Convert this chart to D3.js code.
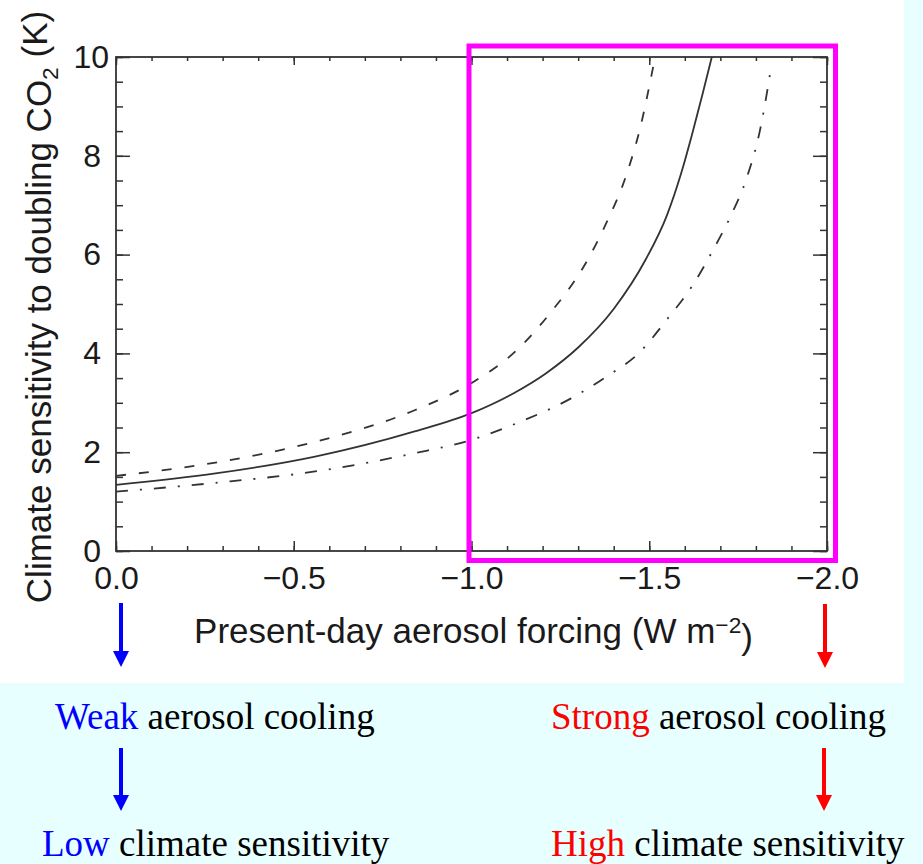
<!DOCTYPE html>
<html>
<head>
<meta charset="utf-8">
<script src="https://cdn.jsdelivr.net/npm/d3@7"></script>
<style>
  html, body { margin: 0; padding: 0; background: #e8ffff; }
  svg { display: block; }
</style>
</head>
<body>
<div id="chart"></div>
<script>
// values
const forcingTicks = [0, -0.5, -1.0, -1.5, -2.0]
const sensitivityTicks = [0, 2, 4, 6, 8, 10]

const solidForcing = [0, -0.28, -0.56, -0.84, -1.0, -1.12, -1.21, -1.30, -1.40, -1.49, -1.55, -1.59, -1.62, -1.65, -1.676]
const solidSens = [1.34, 1.57, 1.91, 2.42, 2.79, 3.2, 3.6, 4.12, 4.9, 5.9, 6.8, 7.65, 8.42, 9.25, 10.0]

const dashedForcing = [0, -0.28, -0.56, -0.84, -1.0, -1.125, -1.225, -1.315, -1.38, -1.436, -1.474, -1.511]
const dashedSens = [1.52, 1.79, 2.21, 2.85, 3.4, 4.05, 4.85, 5.75, 6.65, 7.62, 8.55, 9.8]

const dashDotForcing = [0, -0.28, -0.56, -0.84, -1.0, -1.125, -1.28, -1.38, -1.474, -1.549, -1.624, -1.68, -1.727, -1.774, -1.811, -1.842]
const dashDotSens = [1.20, 1.38, 1.61, 1.98, 2.25, 2.58, 3.09, 3.53, 4.03, 4.68, 5.4, 6.1, 6.75, 7.55, 8.5, 9.75]

const width = 923
const height = 864
const margin = {top: 57, right: 96, bottom: 313, left: 116}
const ink = '#333'
const sans = '"Liberation Sans", Arial, Helvetica, sans-serif'
const serif = '"Liberation Serif", "Times New Roman", serif'

const x = d3.scaleLinear().domain([0, -2]).range([margin.left, width - margin.right])
const y = d3.scaleLinear().domain([0, 10]).range([height - margin.bottom, margin.top])

const svg = d3.select('#chart').append('svg')
    .attr('width', width)
    .attr('height', height)

// page backgrounds
svg.append('rect').attr('width', width).attr('height', height).attr('fill', '#e8ffff')
svg.append('rect').attr('width', 904).attr('height', 683).attr('fill', '#fff')

// frame
svg.append('rect')
    .attr('x', x(0)).attr('y', y(10))
    .attr('width', x(-2) - x(0)).attr('height', y(0) - y(10))
    .attr('fill', 'none').attr('stroke', ink).attr('stroke-width', 1.8)

const xMinor = d3.range(0, 21).map(i => -i / 10)
const yMinor = d3.range(0, 21).map(i => i / 2)
const fmt = d3.format('.1f')

function tidy (g) {
  g.select('.domain').remove()
  g.selectAll('.tick line').attr('stroke', ink).attr('stroke-width', 1.5)
  g.selectAll('.tick text')
      .attr('fill', '#1a1a1a')
      .style('font-family', sans)
      .style('font-size', '32px')
}

// bottom axis
svg.append('g')
    .attr('transform', 'translate(0,' + y(0) + ')')
    .call(d3.axisBottom(x).tickValues(xMinor).tickSize(-5).tickFormat(''))
    .call(tidy)
svg.append('g')
    .attr('transform', 'translate(0,' + y(0) + ')')
    .call(d3.axisBottom(x).tickValues(forcingTicks).tickSize(-10).tickPadding(15).tickFormat(fmt))
    .call(tidy)

// top axis
svg.append('g')
    .attr('transform', 'translate(0,' + y(10) + ')')
    .call(d3.axisTop(x).tickValues(xMinor).tickSize(-4).tickFormat(''))
    .call(tidy)
svg.append('g')
    .attr('transform', 'translate(0,' + y(10) + ')')
    .call(d3.axisTop(x).tickValues(forcingTicks).tickSize(-8).tickFormat(''))
    .call(tidy)

// left axis
svg.append('g')
    .attr('transform', 'translate(' + x(0) + ',0)')
    .call(d3.axisLeft(y).tickValues(yMinor).tickSize(-7).tickFormat(''))
    .call(tidy)
svg.append('g')
    .attr('transform', 'translate(' + x(0) + ',0)')
    .call(d3.axisLeft(y).tickValues(sensitivityTicks).tickSize(-14).tickPadding(15))
    .call(tidy)
    .call(g => g.selectAll('.tick text').filter(d => d === 10).attr('dx', 8))

// right axis
svg.append('g')
    .attr('transform', 'translate(' + x(-2) + ',0)')
    .call(d3.axisRight(y).tickValues(yMinor).tickSize(-7).tickFormat(''))
    .call(tidy)
svg.append('g')
    .attr('transform', 'translate(' + x(-2) + ',0)')
    .call(d3.axisRight(y).tickValues(sensitivityTicks).tickSize(-14).tickFormat(''))
    .call(tidy)

// curves
const line = d3.line()
    .x(d => x(d[0]))
    .y(d => y(d[1]))
    .curve(d3.curveMonotoneX)

const series = [
  {f: solidForcing, s: solidSens, dash: null},
  {f: dashedForcing, s: dashedSens, dash: '10,13'},
  {f: dashDotForcing, s: dashDotSens, dash: '12,12,2,12'}
]

series.forEach(function (d) {
  svg.append('path')
      .datum(d3.zip(d.f, d.s))
      .attr('d', line)
      .attr('fill', 'none')
      .attr('stroke', ink)
      .attr('stroke-width', 1.8)
      .attr('stroke-dasharray', d.dash)
})

// axis titles
svg.append('text')
    .attr('x', (x(0) + x(-2)) / 2 + 2)
    .attr('y', 643)
    .attr('text-anchor', 'middle')
    .attr('fill', '#1a1a1a')
    .style('font-family', sans)
    .style('font-size', '35px')
    .call(t => {
      t.append('tspan').text('Present-day aerosol forcing (W m')
      t.append('tspan').attr('dy', '-0.45em').style('font-size', '0.65em').text('\u22122')
      t.append('tspan').attr('dy', '0.45em').text(')')
    })

svg.append('text')
    .attr('transform', 'translate(51,' + ((y(0) + y(10)) / 2 + 3) + ')rotate(-90)')
    .attr('text-anchor', 'middle')
    .attr('fill', '#1a1a1a')
    .style('font-family', sans)
    .style('font-size', '35px')
    .call(t => {
      t.append('tspan').text('Climate sensitivity to doubling CO')
      t.append('tspan').attr('dy', '0.3em').style('font-size', '0.65em').text('2')
      t.append('tspan').attr('dy', '-0.3em').text(' (K)')
    })

// magenta highlight box
svg.append('rect')
    .attr('x', x(-1) - 2.5).attr('y', y(10) - 11)
    .attr('width', x(-2) - x(-1) + 11).attr('height', y(0) - y(10) + 20.5)
    .attr('fill', 'none')
    .attr('stroke', '#ff00ff')
    .attr('stroke-width', 5)

// arrows
function arrow (cx, y0, y1, color) {
  const head = 16
  const hw = 8
  svg.append('line')
      .attr('x1', cx).attr('x2', cx)
      .attr('y1', y0).attr('y2', y1 - head + 1)
      .attr('stroke', color).attr('stroke-width', 4)
  svg.append('path')
      .attr('d', 'M' + (cx - hw) + ',' + (y1 - head) + 'L' + (cx + hw) + ',' + (y1 - head) + 'L' + cx + ',' + y1 + 'Z')
      .attr('fill', color)
}

arrow(x(0) + 5, 603, 667, '#0000ff')
arrow(x(-2) - 2, 604, 668, '#ff0000')
arrow(x(0) + 5, 748, 811, '#0000ff')
arrow(x(-2) - 3, 748, 811, '#ff0000')

// captions
function caption (tx, ty, word, rest, color) {
  const t = svg.append('text')
      .attr('x', tx).attr('y', ty)
      .style('font-family', serif)
      .style('font-size', '37px')
  t.append('tspan').attr('fill', color).text(word)
  t.append('tspan').attr('fill', '#000').text(' ' + rest)
}

caption(55, 729, 'Weak', 'aerosol cooling', '#0000ff')
caption(42, 856, 'Low', 'climate sensitivity', '#0000ff')
caption(551, 729, 'Strong', 'aerosol cooling', '#ff0000')
caption(551, 856, 'High', 'climate sensitivity', '#ff0000')
</script>
</body>
</html>
